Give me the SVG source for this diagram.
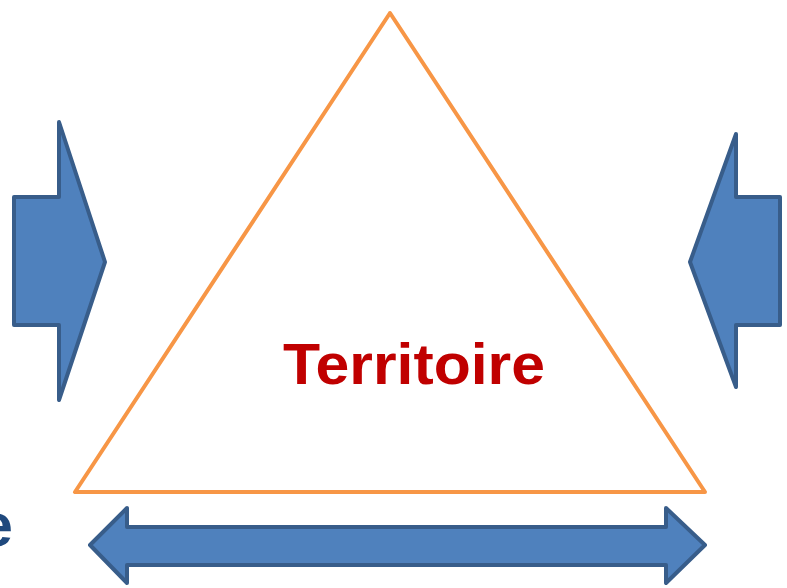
<svg xmlns="http://www.w3.org/2000/svg" width="787" height="588" viewBox="0 0 787 588">
<style>
.arrow{fill:#4F81BD;stroke:#385D8A;stroke-width:4;stroke-linejoin:round}
.tri{fill:#FFFFFF;stroke:#F79646;stroke-width:4;stroke-linejoin:round}
.lbl{font-family:"Liberation Sans",Arial,sans-serif;font-weight:bold}
</style>
<rect width="787" height="588" fill="#FFFFFF"/>
<g id="triangle">
<polygon class="tri" points="390,13 75,492 705,492"/>
<text class="lbl" x="283" y="384" font-size="58" fill="#C00000" textLength="262" lengthAdjust="spacingAndGlyphs">Territoire</text>
</g>
<g id="connectors">
<polygon id="arrow-left" class="arrow" points="14,197 59,197 59,122 105,262 59,400 59,325 14,325"/>
<polygon id="arrow-right" class="arrow" points="780,197 736,197 736,134 690,262 736,387 736,325 780,325"/>
<polygon id="arrow-bottom" class="arrow" points="90,545 127,508 127,527 666,527 666,508 705,545 666,583 666,565 127,565 127,583"/>
</g>
<g id="partial-label">
<text class="lbl" x="13" y="546" font-size="62" fill="#1F497D" text-anchor="end">e</text>
</g>
</svg>
